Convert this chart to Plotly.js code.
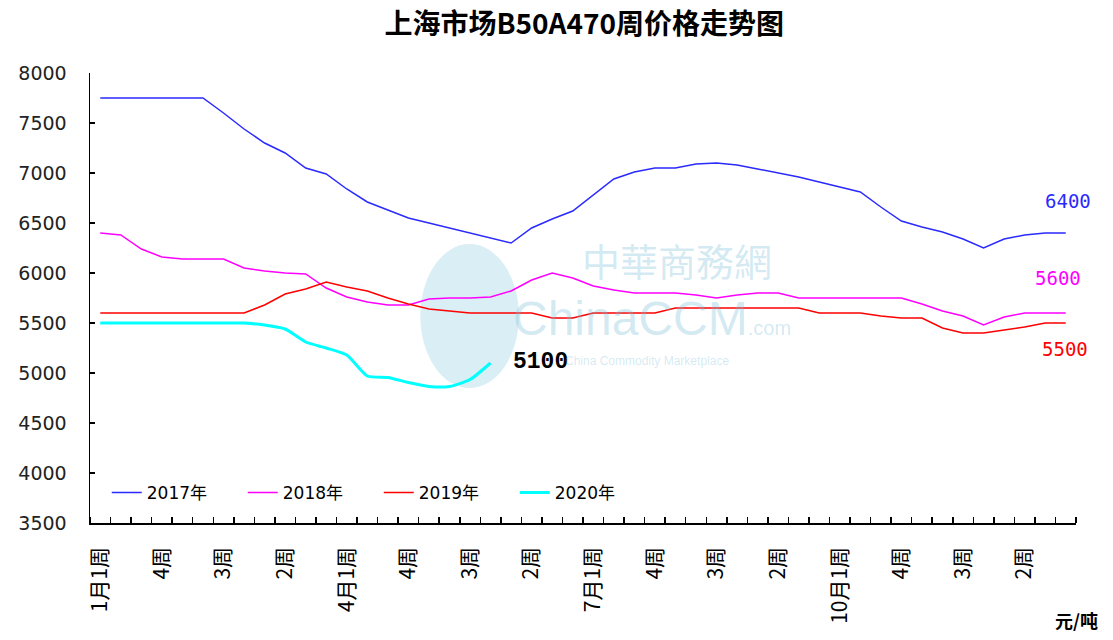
<!DOCTYPE html>
<html>
<head>
<meta charset="utf-8">
<script src="https://cdn.plot.ly/plotly-3.0.1.min.js"></script>
<style>html,body{margin:0;padding:0;background:#fff;}#chart{width:1113px;height:640px;}</style>
</head>
<body>
<div id="chart"></div>
<script>
// 48 weeks: 12 months x 4 weeks
const months = [1,2,3,4,5,6,7,8,9,10,11,12];
const weeksPerMonth = [1,2,3,4];
const categories = [];
months.forEach(m => weeksPerMonth.forEach(w => categories.push(m + "月" + w + "周")));

const tickIndex = [0,3,6,9,12,15,18,21,24,27,30,33,36,39,42,45];
const tickLabels = ["1月1周","4周","3周","2周","4月1周","4周","3周","2周","7月1周","4周","3周","2周","10月1周","4周","3周","2周"];

const seriesNames = ["2017年","2018年","2019年","2020年"];
const y2017 = [7750,7750,7750,7750,7750,7750,7600,7440,7300,7200,7050,6990,6840,6710,6630,6550,6500,6450,6400,6350,6300,6450,6540,6620,6780,6940,7010,7050,7050,7090,7100,7080,7040,7000,6960,6910,6860,6810,6660,6520,6460,6410,6340,6250,6340,6380,6400,6400];
const y2018 = [6400,6380,6240,6160,6140,6140,6140,6050,6020,6000,5990,5850,5760,5710,5680,5680,5740,5750,5750,5760,5820,5930,6000,5950,5870,5830,5800,5800,5800,5780,5750,5780,5800,5800,5750,5750,5750,5750,5750,5750,5690,5620,5570,5480,5560,5600,5600,5600];
const y2019 = [5600,5600,5600,5600,5600,5600,5600,5600,5680,5790,5840,5910,5860,5820,5750,5690,5640,5620,5600,5600,5600,5600,5550,5550,5600,5600,5600,5600,5650,5650,5650,5650,5650,5650,5650,5600,5600,5600,5570,5550,5550,5450,5400,5400,5430,5460,5500,5500];
const y2020 = [5500,5500,5500,5500,5500,5500,5500,5500,5480,5440,5310,5250,5180,4970,4955,4905,4865,4865,4935,5100];

const colors = ["#2a2aff","#ff00ff","#ff0000","#00ffff"];
const widths = [1.5,1.5,1.5,3];
const allY = [y2017,y2018,y2019,y2020];

const endLabels = [
  {text:"6400", idx:47, series:0, dx:2, dy:-32, color:"#2a2aff", bold:false},
  {text:"5600", idx:47, series:1, dx:-8, dy:-35, color:"#ff00ff", bold:false},
  {text:"5500", idx:47, series:2, dx:-1, dy:26, color:"#ff0000", bold:false},
  {text:"5100", idx:19, series:3, dx:50, dy:-1, color:"#000000", bold:true}
];

const traces = allY.map((ys,k) => ({
  type:"scatter", mode:"lines", name:seriesNames[k],
  x: ys.map((_,i)=>i), y: ys,
  line:{color:colors[k], width:widths[k], shape: k===3 ? "spline" : "linear", smoothing:0.6},
  hoverinfo:"skip"
}));

const annotations = endLabels.map(l => ({
  x:l.idx, y:allY[l.series][l.idx], xref:"x", yref:"y",
  xshift:l.dx, yshift:-l.dy, showarrow:false,
  text: l.bold ? "<b>"+l.text+"</b>" : l.text,
  font:{family: l.bold ? "Liberation Mono, DejaVu Sans Mono" : "DejaVu Sans Mono, DejaVu Sans", size: l.bold ? 23 : 19, color:l.color}
}));

// faint watermark
annotations.push(
  {x:0.595, y:0.585, xref:"paper", yref:"paper", showarrow:false, text:"中華商務網",
   font:{family:"Noto Sans CJK TC", size:38, color:"rgba(120,190,215,0.32)"}},
  {x:0.57, y:0.455, xref:"paper", yref:"paper", showarrow:false, text:"ChinaCCM<span style='font-size:20px'>.com</span>",
   font:{family:"Liberation Sans Narrow, Liberation Sans", size:48, color:"rgba(120,190,215,0.32)"}},
  {x:0.565, y:0.36, xref:"paper", yref:"paper", showarrow:false, text:"China Commodity Marketplace",
   font:{family:"Liberation Sans", size:12, color:"rgba(120,190,215,0.32)"}},
  {x:1.0, y:-0.248, xref:"paper", yref:"paper", xanchor:"center", yanchor:"bottom", showarrow:false, text:"<b>元/吨</b>",
   font:{family:"Noto Sans CJK SC", size:18, color:"#000"}}
);

const layout = {
  width:1113, height:640,
  margin:{l:90, r:37, t:73, b:117},
  paper_bgcolor:"#fff", plot_bgcolor:"#fff",
  title:{text:"<b>上海市场B50A470周价格走势图</b>", x:0.525, xanchor:"center", y:0.962, yanchor:"middle",
    font:{family:"Noto Sans CJK SC", size:28, color:"#000"}},
  showlegend:true,
  legend:{orientation:"h", x:0.017, y:0.067, xanchor:"left", yanchor:"middle",
    bgcolor:"rgba(0,0,0,0)", entrywidth:91, entrywidthmode:"pixels",
    font:{family:"DejaVu Sans, Noto Sans CJK SC", size:17, color:"#000"}},
  xaxis:{
    range:[-0.5, 47.5], showgrid:false, zeroline:false,
    showline:true, linecolor:"#000", linewidth:1.5,
    tickmode:"array", tickvals:tickIndex, ticktext:tickLabels,
    ticks:"", tickangle:-90, ticklabelstandoff:14,
    tickfont:{family:"Noto Sans CJK SC", size:21, color:"#000"},
    minor:{dtick:1, tick0:0.5, ticks:"inside", ticklen:6, tickcolor:"#000", tickwidth:1.5, showgrid:false}
  },
  yaxis:{
    range:[3500,8000], dtick:500, showgrid:false, zeroline:false,
    showline:true, linecolor:"#000", linewidth:1.5,
    ticks:"inside", ticklen:5, tickcolor:"#000", tickwidth:1.5,
    ticklabelstandoff:18,
    tickfont:{family:"DejaVu Sans", size:19, color:"#222"}
  },
  shapes:[
    {type:"circle", xref:"paper", yref:"paper", x0:0.335, x1:0.435, y0:0.30, y1:0.62,
     fillcolor:"rgba(150,205,225,0.35)", line:{width:0}, layer:"below"}
  ],
  annotations: annotations
};

Plotly.newPlot("chart", traces, layout, {displayModeBar:false, staticPlot:true});
</script>
</body>
</html>
